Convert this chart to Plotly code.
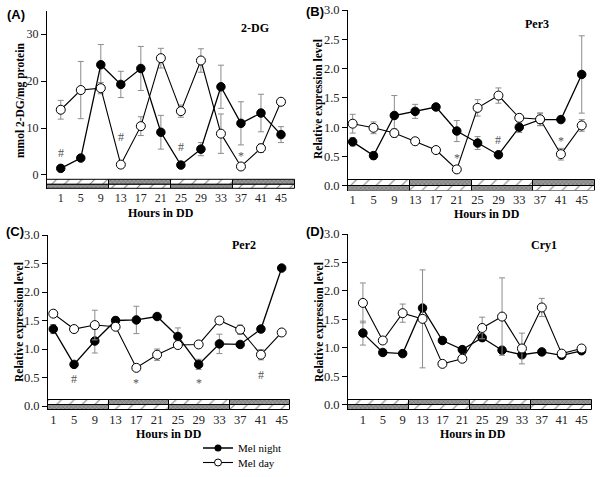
import plotly.graph_objects as go

# ---------------- data ----------------
HOURS = [1, 5, 9, 13, 17, 21, 25, 29, 33, 37, 41, 45]
X_TICKS = HOURS

# (A) 2-DG uptake, mmol 2-DG/mg protein
DG_NIGHT = [1.4, 3.6, 23.5, 19.3, 22.7, 9.1, 2.1, 5.5, 18.8, 11.0, 13.2, 8.6]
DG_NIGHT_ERR = [0, 0, 4.3, 2.8, 4.7, 3.6, 0, 1.4, 4.6, 4.6, 4.0, 1.7]
DG_DAY = [13.9, 18.1, 18.5, 2.2, 10.4, 24.9, 13.6, 24.4, 8.8, 1.8, 5.7, 15.6]
DG_DAY_ERR = [2.0, 6.1, 1.2, 0, 2.0, 2.1, 1.3, 2.5, 4.2, 0, 0.9, 0]

# (B) Per3 relative expression
PER3_NIGHT = [0.75, 0.515, 1.20, 1.27, 1.345, 0.935, 0.73, 0.53, 1.00, 1.13, 1.13, 1.90]
PER3_NIGHT_ERR = [0.07, 0.06, 0.34, 0.12, 0, 0.18, 0.11, 0, 0.09, 0.10, 0, 0.66]
PER3_DAY = [1.06, 0.99, 0.90, 0.76, 0.61, 0.28, 1.33, 1.54, 1.16, 1.135, 0.54, 1.03]
PER3_DAY_ERR = [0.16, 0.10, 0.07, 0, 0, 0, 0.14, 0.13, 0.04, 0.11, 0.10, 0.10]

# (C) Per2 relative expression
PER2_NIGHT = [1.35, 0.73, 1.14, 1.50, 1.51, 1.57, 1.22, 0.73, 1.09, 1.08, 1.35, 2.42]
PER2_NIGHT_ERR = [0.08, 0, 0.21, 0.06, 0.24, 0, 0.15, 0.09, 0.17, 0, 0, 0]
PER2_DAY = [1.62, 1.35, 1.42, 1.39, 0.67, 0.90, 1.07, 1.08, 1.50, 1.34, 0.90, 1.29]
PER2_DAY_ERR = [0, 0.05, 0.26, 0, 0, 0.10, 0, 0, 0.06, 0.08, 0.09, 0]

# (D) Cry1 relative expression
CRY1_NIGHT = [1.26, 0.92, 0.90, 1.70, 1.13, 0.97, 1.18, 0.96, 0.88, 0.93, 0.87, 0.95]
CRY1_NIGHT_ERR = [0.21, 0, 0, 0, 0, 0, 0.06, 0.05, 0.05, 0.05, 0, 0]
CRY1_DAY = [1.79, 1.13, 1.61, 1.51, 0.72, 0.81, 1.35, 1.55, 0.99, 1.71, 0.90, 0.99]
CRY1_DAY_ERR = [0.35, 0, 0.16, 0.86, 0.05, 0.05, 0.19, 0.68, 0.27, 0.16, 0, 0]

# significance marks: (hour, value, symbol)
DG_MARKS = [(1, 4.6, "#"), (13, 8.0, "#"), (25, 5.9, "#"), (37, 4.0, "*")]
PER3_MARKS = [(21, 0.48, "*"), (29, 0.78, "#"), (41, 0.76, "*")]
PER2_MARKS = [(5, 0.47, "#"), (17, 0.40, "*"), (29, 0.40, "*"), (41, 0.55, "#")]
CRY1_MARKS = []

GENES = ["2-DG", "Per3", "Per2", "Cry1"]
PANEL_LABELS = ["(A)", "(B)", "(C)", "(D)"]
Y_TITLES = ["mmol 2-DG/mg protein", "Relative expression level",
            "Relative expression level", "Relative expression level"]
X_TITLE = "Hours in DD"
LEGEND_NAMES = ["Mel night", "Mel day"]

REL_TICKS = [0, 0.5, 1, 1.5, 2, 2.5, 3]
REL_TEXT = ["0.0", "0.5", "1.0", "1.5", "2.0", "2.5", "3.0"]

# layout (pixel positions of each panel's texts; plot-area domains)
PANELS = [
    dict(night=DG_NIGHT, night_err=DG_NIGHT_ERR, day=DG_DAY, day_err=DG_DAY_ERR,
         marks=DG_MARKS, yticks=[0, 10, 20, 30], ytext=["0", "10", "20", "30"],
         yrange=[-3, 35], rows=[(-2.0, -1.05), (-3.0, -2.0)],
         xrange=[-1.75, 47.8], xdom=[47 / 600, 295 / 600], ydom=[1 - 189 / 477, 1 - 10.8 / 477],
         tickfont=12, lab_px=(5, 15), gene_px=(255, 28), ytit_px=(20, 101), xtit_px=(161, 213)),
    dict(night=PER3_NIGHT, night_err=PER3_NIGHT_ERR, day=PER3_DAY, day_err=PER3_DAY_ERR,
         marks=PER3_MARKS, yticks=REL_TICKS, ytext=REL_TEXT,
         yrange=[-0.08, 3.0], rows=[(0.0, 0.092), (-0.08, 0.0)],
         xrange=[0.1, 47.55], xdom=[348 / 600, 595 / 600], ydom=[1 - 190.5 / 477, 1 - 10 / 477],
         tickfont=12.5, lab_px=(304, 12), gene_px=(537, 24), ytit_px=(319, 99), xtit_px=(487, 214)),
    dict(night=PER2_NIGHT, night_err=PER2_NIGHT_ERR, day=PER2_DAY, day_err=PER2_DAY_ERR,
         marks=PER2_MARKS, yticks=REL_TICKS, ytext=REL_TEXT,
         yrange=[-0.07, 3.0], rows=[(0.02, 0.105), (-0.07, 0.02)],
         xrange=[-0.02, 46.6], xdom=[48 / 600, 290 / 600], ydom=[1 - 410 / 477, 1 - 235 / 477],
         tickfont=12.5, lab_px=(4, 231), gene_px=(244, 245), ytit_px=(19, 322), xtit_px=(169, 434)),
    dict(night=CRY1_NIGHT, night_err=CRY1_NIGHT_ERR, day=CRY1_DAY, day_err=CRY1_DAY_ERR,
         marks=CRY1_MARKS, yticks=REL_TICKS, ytext=REL_TEXT,
         yrange=[-0.09, 3.0], rows=[(0.0, 0.085), (-0.09, 0.0)],
         xrange=[-2.0, 47.1], xdom=[348 / 600, 592 / 600], ydom=[1 - 410 / 477, 1 - 234 / 477],
         tickfont=12.5, lab_px=(304, 231), gene_px=(544, 245), ytit_px=(319, 322), xtit_px=(473, 434)),
]

SERIF = "Liberation Serif, Times New Roman, serif"
SANS = "Liberation Sans, Arial, sans-serif"
ERR_COLOR = "#8c8c8c"
W, H = 600, 477

fig = go.Figure()
annotations = []


def px(x, y):
    return x / W, 1 - y / H


for i, p in enumerate(PANELS):
    n = "" if i == 0 else str(i + 1)
    xa, ya = "x" + n, "y" + n

    # light/dark bars (two complementary rows), four 12-h phases
    x0, x1 = p["xrange"]
    q = (x1 - x0) / 4
    centers = [x0 + q * (k + 0.5) for k in range(4)]
    for r, (b0, b1) in enumerate(p["rows"]):
        for light in (True, False):
            idx = [k for k in range(4) if ((k + r) % 2 == 0) == light]
            fig.add_trace(go.Bar(
                x=[centers[k] for k in idx], y=[b1 - b0] * len(idx), base=[b0] * len(idx),
                width=[q] * len(idx), xaxis=xa, yaxis=ya, showlegend=False, hoverinfo="skip",
                marker=dict(
                    color="white" if light else "#8a8a8a",
                    line=dict(color="black", width=1),
                    pattern=dict(shape="/" if light else "x",
                                 fgcolor="black" if light else "#444444",
                                 bgcolor="white" if light else "#9a9a9a",
                                 size=9 if light else 3, solidity=0.12 if light else 0.35),
                ),
            ))

    fig.add_trace(go.Scatter(
        x=HOURS, y=p["night"], mode="lines+markers", name=LEGEND_NAMES[0],
        xaxis=xa, yaxis=ya, showlegend=False,
        line=dict(color="black", width=1.3),
        marker=dict(symbol="circle", size=8.5, color="black", line=dict(color="black", width=1)),
        error_y=dict(type="data", array=p["night_err"], color=ERR_COLOR, thickness=1, width=3),
    ))
    fig.add_trace(go.Scatter(
        x=HOURS, y=p["day"], mode="lines+markers", name=LEGEND_NAMES[1],
        xaxis=xa, yaxis=ya, showlegend=False,
        line=dict(color="black", width=1.1),
        marker=dict(symbol="circle", size=9, color="white", line=dict(color="black", width=1)),
        error_y=dict(type="data", array=p["day_err"], color=ERR_COLOR, thickness=1, width=3),
    ))

    for (hx, hy, sym) in p["marks"]:
        annotations.append(dict(x=hx, y=hy, xref=xa, yref=ya, text=sym, showarrow=False,
                                font=dict(family=SERIF, size=12, color="#555555")))

    xd, yd = p["xdom"], p["ydom"]
    fig.update_layout(**{
        ("xaxis" + n): dict(domain=xd, range=p["xrange"], anchor=ya, tickvals=X_TICKS,
                            showline=False, showgrid=False, zeroline=False, ticks="",
                            automargin=False,
                            tickfont=dict(family=SERIF, size=p["tickfont"], color="#222")),
        ("yaxis" + n): dict(domain=yd, range=p["yrange"], anchor=xa, tickvals=p["yticks"],
                            ticktext=p["ytext"], showline=True, linecolor="black", linewidth=1,
                            ticks="outside", ticklen=5, tickcolor="black", showgrid=False,
                            zeroline=False, automargin=False,
                            tickfont=dict(family=SERIF, size=p["tickfont"], color="#222")),
    })

    lx, ly = px(*p["lab_px"])
    annotations.append(dict(x=lx, y=ly, xref="paper", yref="paper",
                            text="<b>" + PANEL_LABELS[i] + "</b>", showarrow=False,
                            xanchor="left", yanchor="middle",
                            font=dict(family=SANS, size=13, color="black")))
    gx, gy = px(*p["gene_px"])
    annotations.append(dict(x=gx, y=gy, xref="paper", yref="paper",
                            text="<b>" + GENES[i] + "</b>", showarrow=False,
                            xanchor="center", yanchor="middle",
                            font=dict(family=SERIF, size=12, color="black")))
    tx, ty = px(*p["xtit_px"])
    annotations.append(dict(x=tx, y=ty, xref="paper", yref="paper",
                            text="<b>" + X_TITLE + "</b>", showarrow=False,
                            xanchor="center", yanchor="middle",
                            font=dict(family=SERIF, size=12, color="black")))
    yx, yy = px(*p["ytit_px"])
    annotations.append(dict(x=yx, y=yy, xref="paper", yref="paper",
                            text="<b>" + Y_TITLES[i] + "</b>", showarrow=False,
                            textangle=-90, xanchor="center", yanchor="middle",
                            font=dict(family=SERIF, size=11.5, color="black")))

# legend-only entries (smaller symbols, as in the original key), one legend box per row
fig.add_trace(go.Scatter(x=[None], y=[None], mode="lines+markers", name=LEGEND_NAMES[0],
                         legend="legend",
                         line=dict(color="black", width=1.3),
                         marker=dict(symbol="circle", size=7, color="black")))
fig.add_trace(go.Scatter(x=[None], y=[None], mode="lines+markers", name=LEGEND_NAMES[1],
                         legend="legend2",
                         line=dict(color="black", width=1.1),
                         marker=dict(symbol="circle", size=7, color="white",
                                     line=dict(color="black", width=1))))

legend_style = dict(xanchor="left", bgcolor="rgba(0,0,0,0)",
                    font=dict(family=SERIF, size=11, color="black"), itemwidth=30)
lgx, lgy1 = px(198, 448)

fig.update_layout(
    width=W, height=H, margin=dict(l=0, r=0, t=0, b=0, pad=0), autosize=False,
    paper_bgcolor="white", plot_bgcolor="white", barmode="overlay", bargap=0,
    annotations=annotations,
    legend=dict(x=lgx, y=lgy1, yanchor="middle", **legend_style),
    legend2=dict(x=lgx, y=0.0, yanchor="bottom", **legend_style),
)

fig.write_html("out.html", config={"displayModeBar": False},
               post_script="document.body.style.margin='0';")
